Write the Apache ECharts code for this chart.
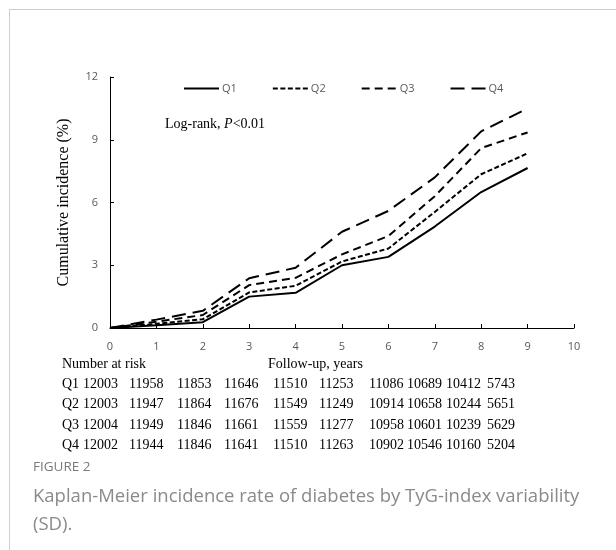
<!DOCTYPE html>
<html>
<head>
<meta charset="utf-8">
<script src="https://cdn.jsdelivr.net/npm/echarts@6/dist/echarts.min.js"></script>
<style>
  body { margin: 0; background: #fff; }
  .wrap { position: relative; width: 616px; height: 550px; }
  .frame {
    position: absolute; left: 9px; top: 9px; right: 0; bottom: 0;
    border-left: 1px solid #cfcfcf; border-top: 1px solid #cfcfcf;
  }
  #chart { position: absolute; left: 0; top: 0; width: 616px; height: 550px; }
</style>
</head>
<body>
<div class="wrap">
  <div class="frame"></div>
  <div id="chart"></div>
</div>
<script>
// follow-up years
const years = [0, 1, 2, 3, 4, 5, 6, 7, 8, 9]
// cumulative incidence (%) per quartile
const q1 = [0, 0.13, 0.28, 1.5, 1.68, 3.0, 3.4, 4.85, 6.5, 7.65]
const q2 = [0, 0.2, 0.42, 1.7, 2.02, 3.18, 3.8, 5.55, 7.35, 8.35]
const q3 = [0, 0.3, 0.62, 2.05, 2.4, 3.52, 4.4, 6.3, 8.6, 9.35]
const q4 = [0, 0.4, 0.82, 2.38, 2.88, 4.6, 5.6, 7.2, 9.4, 10.5]
const seriesNames = ['Q1', 'Q2', 'Q3', 'Q4']

// number at risk
const riskQ1 = [12003, 11958, 11853, 11646, 11510, 11253, 11086, 10689, 10412, 5743]
const riskQ2 = [12003, 11947, 11864, 11676, 11549, 11249, 10914, 10658, 10244, 5651]
const riskQ3 = [12004, 11949, 11846, 11661, 11559, 11277, 10958, 10601, 10239, 5629]
const riskQ4 = [12002, 11944, 11846, 11641, 11510, 11263, 10902, 10546, 10160, 5204]

// layout of the risk table (left edge of each column, row centres)
const colX = [83, 129, 177, 224, 273, 319, 369, 407, 446, 487]
const rowY = [385, 405, 426, 446]

const dashes = [null, [5, 2.5], [8, 5], [14, 7]]
const allData = [q1, q2, q3, q4]
const allRisk = [riskQ1, riskQ2, riskQ3, riskQ4]

const serif = '"Liberation Serif", "DejaVu Serif", serif'
const sans = '"Open Sans", "Noto Sans", sans-serif'

const chart = echarts.init(document.getElementById('chart'), null, { renderer: 'canvas' })

const graphics = [
  {
    type: 'text', left: 165, top: 117,
    style: {
      text: '{n|Log-rank, }{i|P}{n|<0.01}',
      rich: {
        n: { fontFamily: serif, fontSize: 14, fill: '#000' },
        i: { fontFamily: serif, fontSize: 14, fontStyle: 'italic', fill: '#000' }
      }
    }
  },
  {
    type: 'text', left: 62, top: 357,
    style: { text: 'Number at risk', font: '14px ' + serif, fill: '#000' }
  },
  {
    type: 'text', left: 268, top: 357,
    style: { text: 'Follow-up, years', font: '14px ' + serif, fill: '#000' }
  },
  {
    type: 'text', left: 33, top: 460,
    style: { text: 'FIGURE 2', font: '13.5px ' + sans, fill: '#7a7a7a' }
  },
  {
    type: 'text', left: 33, top: 483,
    style: {
      text: 'Kaplan-Meier incidence rate of diabetes by TyG-index variability\n(SD).',
      font: '18.5px ' + sans, fill: '#8a8a8a', lineHeight: 28
    }
  }
]

allRisk.forEach((row, r) => {
  graphics.push({
    type: 'text', left: 62, top: rowY[r] - 8,
    style: { text: seriesNames[r], font: '14px ' + serif, fill: '#000' }
  })
  row.forEach((v, c) => {
    graphics.push({
      type: 'text', left: colX[c], top: rowY[r] - 8,
      style: { text: String(v), font: '14px ' + serif, fill: '#000' }
    })
  })
})

const option = {
  animation: false,
  backgroundColor: 'transparent',
  grid: { left: 110, right: 42, top: 77, bottom: 222 },
  legend: {
    data: seriesNames,
    left: 183,
    top: 83,
    padding: 0,
    itemWidth: 35,
    itemHeight: 10,
    itemGap: 35,
    itemStyle: { opacity: 0 },
    textStyle: { color: '#595959', fontSize: 11, fontFamily: sans, padding: [0, 0, 0, -2] }
  },
  xAxis: {
    type: 'value',
    min: 0,
    max: 10,
    interval: 1,
    axisLine: { lineStyle: { color: '#000', width: 1 } },
    axisTick: { inside: true, length: 4, lineStyle: { color: '#000' } },
    axisLabel: { color: '#595959', fontSize: 11, fontFamily: sans, margin: 13 },
    splitLine: { show: false }
  },
  yAxis: {
    type: 'value',
    min: 0,
    max: 12,
    interval: 3,
    name: 'Cumulative incidence (%)',
    nameLocation: 'middle',
    nameGap: 38,
    nameTextStyle: { fontFamily: serif, fontSize: 16, color: '#000' },
    axisLine: { show: true, lineStyle: { color: '#000', width: 1 } },
    axisTick: { show: true, inside: true, length: 4, lineStyle: { color: '#000' } },
    axisLabel: { color: '#595959', fontSize: 11, fontFamily: sans, margin: 12 },
    splitLine: { show: false }
  },
  series: allData.map((d, i) => ({
    name: seriesNames[i],
    type: 'line',
    data: years.map((y, k) => [y, d[k]]),
    symbol: 'none',
    lineStyle: {
      color: '#000',
      width: 2,
      type: dashes[i] || 'solid'
    },
    itemStyle: { color: '#000' }
  })),
  graphic: graphics
}

chart.setOption(option)
</script>
</body>
</html>
